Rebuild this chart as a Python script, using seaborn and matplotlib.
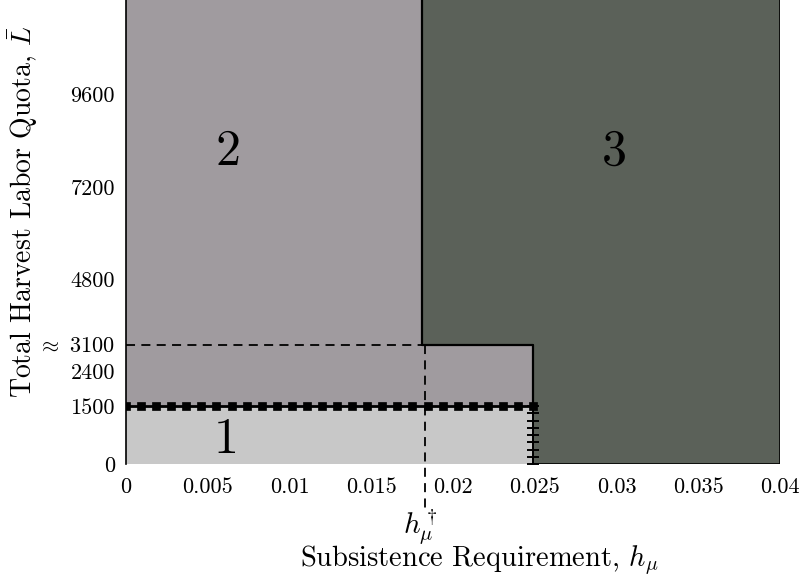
import numpy as np
import pandas as pd
import matplotlib
matplotlib.use("Agg")
import matplotlib.pyplot as plt
import seaborn as sns

# ---- data ----
h_dagger = 0.01812       # vertical boundary between regions 2 and 3
h_dash = 0.01831         # dashed marker of h_mu dagger
h_max = 0.0249           # subsistence limit of region 1
L_low = 1500
L_mid = 3100
x_max = 0.04
y_max = 12050
xticks = [0, 0.005, 0.01, 0.015, 0.02, 0.025, 0.03, 0.035, 0.04]
xticklabels = ["0", "0.005", "0.01", "0.015", "0.02", "0.025", "0.03", "0.035", "0.04"]
yticks = [0, 1500, 2400, 3100, 4800, 7200, 9600]
yticklabels = ["0", "1500", "2400", r"$\approx\ \mathrm{3100}$", "4800", "7200", "9600"]
region_labels = ["1", "2", "3"]
region_x = [0.00612, 0.00624, 0.02985]
region_y = [623, 8100, 8100]

c1 = "#c8c8c8"
c2 = "#a09b9f"
c3 = "#5b6159"

sns.set_theme(style="white")
plt.rcParams["font.family"] = ["cmr10", "DejaVu Serif"]
plt.rcParams["mathtext.fontset"] = "cm"
plt.rcParams["axes.unicode_minus"] = False
plt.rcParams["text.color"] = "black"
plt.rcParams["xtick.color"] = "black"
plt.rcParams["ytick.color"] = "black"

fig = plt.figure(figsize=(8, 5.79), dpi=100)
ax = fig.add_axes([126 / 800, 1 - 464 / 579, (780 - 126) / 800, 464 / 579])

top = y_max * 1.1
# region 1
ax.fill([0, h_max, h_max, 0], [0, 0, L_low, L_low], color=c1, lw=0, zorder=1)
# region 2
ax.fill([0, h_max, h_max, 0], [L_low, L_low, L_mid, L_mid], color=c2, lw=0, zorder=1)
ax.fill([0, h_dagger, h_dagger, 0], [L_low, L_low, top, top], color=c2, lw=0, zorder=1)
# region 3
ax.fill([h_dagger, h_max, h_max, x_max, x_max, h_dagger],
        [L_mid, L_mid, 0, 0, top, top],
        facecolor=c3, edgecolor="black", lw=1.2, zorder=1)

# boundaries
b1 = pd.DataFrame({"x": [h_dagger, h_dagger, h_max, h_max],
                   "y": [top, L_mid, L_mid, L_low]})
sns.lineplot(data=b1, x="x", y="y", sort=False, color="black", lw=1.6,
             ax=ax, zorder=4, estimator=None)

# dashed guides
ax.plot([0, h_dash], [L_mid, L_mid], color="black", ls=(0, (5, 3.5)), lw=1.3, zorder=3)
ax.plot([h_dash, h_dash], [L_mid, -1200], color="black", ls=(0, (5, 3.5)), lw=1.3,
        zorder=3, clip_on=False)

# L = 1500 boundary with square markers
xs = np.linspace(0, h_max, 28)
b2 = pd.DataFrame({"x": xs, "y": np.full_like(xs, L_low)})
sns.lineplot(data=b2, x="x", y="y", color="black", lw=2, marker="s",
             markersize=5.5, markeredgecolor="black", markeredgewidth=0.5,
             ax=ax, zorder=5, estimator=None)

# vertical boundary with tick markers
ys = np.linspace(0, L_low, 9)
b3 = pd.DataFrame({"x": np.full_like(ys, h_max), "y": ys})
sns.lineplot(data=b3, x="x", y="y", sort=False, color="black", lw=1.3, marker="_",
             markersize=8, markeredgecolor="black", markeredgewidth=1.4, ax=ax,
             zorder=5, estimator=None, clip_on=False)

for lab, xx, yy in zip(region_labels, region_x, region_y):
    ax.text(xx, yy, lab, fontsize=36, ha="center", va="center", zorder=6)

ax.set_xlim(0, x_max)
ax.set_ylim(0, y_max)
ax.set_xticks(xticks)
ax.set_xticklabels(xticklabels)
ax.set_yticks(yticks)
ax.set_yticklabels(yticklabels)
ax.tick_params(axis="both", length=0, labelsize=16, colors="black")
ax.tick_params(axis="x", pad=10)
ax.tick_params(axis="y", pad=8)
ax.set_xlabel("")
ax.set_ylabel("")
for s in ["top", "right", "bottom"]:
    ax.spines[s].set_visible(False)
ax.spines["left"].set_color("black")
ax.spines["left"].set_linewidth(1.2)
ax.spines["left"].set_zorder(6)

fig.text(479 / 800, 1 - 560 / 579, r"Subsistence Requirement, $h_\mu$", fontsize=20.5,
         ha="center", va="center")
fig.text(23 / 800, 1 - 212 / 579, r"Total Harvest Labor Quota, $\bar{L}$", fontsize=20,
         ha="center", va="center", rotation=90)
fig.text(420 / 800, 1 - 527 / 579, r"$h_\mu^\dagger$", fontsize=21,
         ha="center", va="center")

fig.savefig("out.png", dpi=100)
